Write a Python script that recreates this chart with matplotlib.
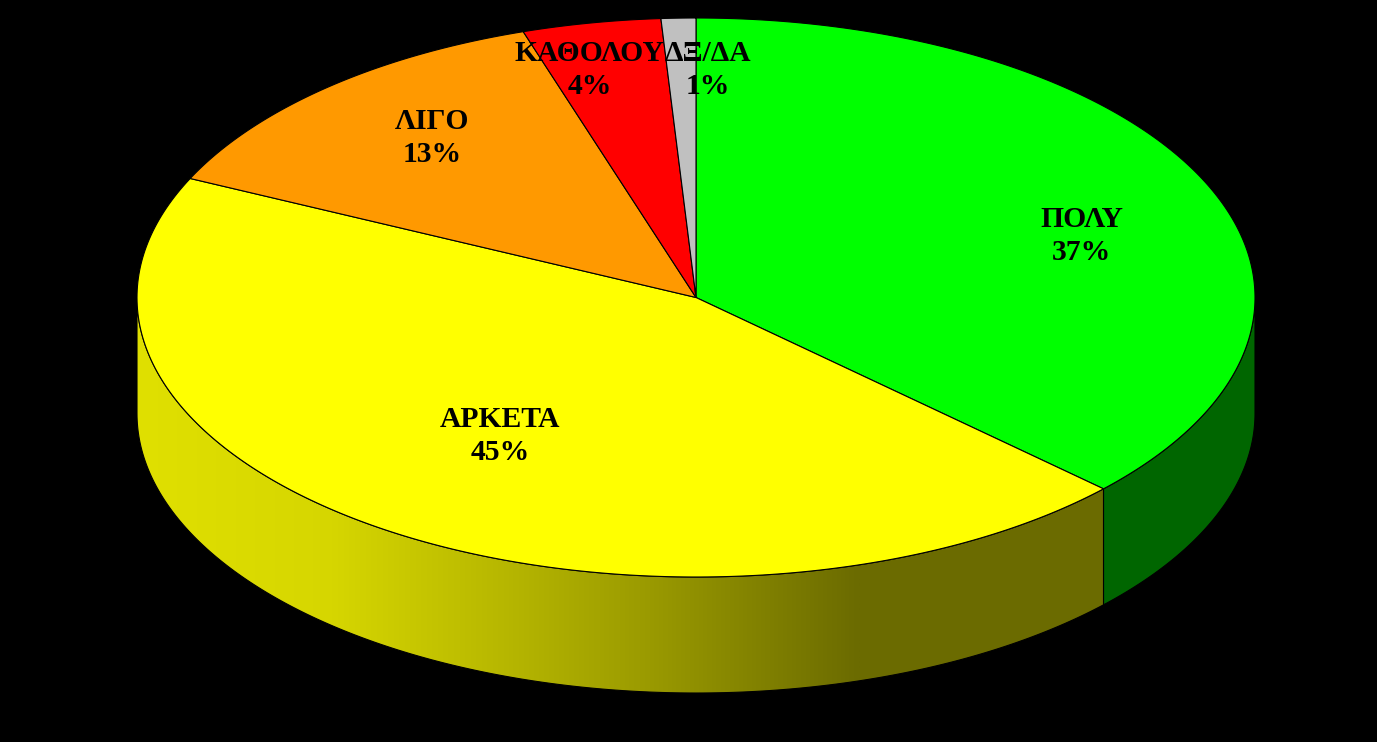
"""3D-look pie chart of survey answers on a black background."""

import numpy as np
import matplotlib

matplotlib.use("Agg")
import matplotlib.pyplot as plt
from matplotlib.colors import LinearSegmentedColormap
from matplotlib.patches import Polygon

categories = ["ΠΟΛΥ", "ΑΡΚΕΤΑ", "ΛΙΓΟ", "ΚΑΘΟΛΟΥ", "ΔΞ/ΔΑ"]
values = [37, 45, 13, 4, 1]
colors = ["#00ff00", "#ffff00", "#ff9900", "#ff0000", "#c0c0c0"]

# label centres as fractions of the radius (x right, y down)
label_dx = [0.69, -0.35, -0.472, -0.19, 0.022]
label_dy = [-0.22, 0.495, -0.57, -0.815, -0.815]

WIDTH, HEIGHT = 1377, 742
CX, CY = 696, 297.5
RX, RY = 559, 279.5
DEPTH = 116
SIDE_GREEN = "#006600"
GRADIENT_END_X = 860
# (position along the ramp, colour) for the shaded yellow wall
SIDE_STOPS = [(0.0, "#e0e000"), (0.27, "#d6d600"), (0.50, "#b8b800"),
              (0.71, "#9a9a00"), (1.0, "#6b6b00")]


def rim(theta_deg, drop=0.0):
    """Points on the ellipse, theta clockwise from 12 o'clock."""
    t = np.radians(theta_deg)
    return np.column_stack([CX + RX * np.sin(t), CY - RY * np.cos(t) + drop])


def side_points(a, b):
    arc = np.linspace(a, b, 200)
    return np.vstack([rim(arc), rim(arc[::-1], DEPTH)])


fig = plt.figure(figsize=(WIDTH / 100, HEIGHT / 100), dpi=100, facecolor="black")
ax = fig.add_axes([0, 0, 1, 1])
ax.set_xlim(0, WIDTH)
ax.set_ylim(HEIGHT, 0)
ax.axis("off")

edges = np.concatenate([[0], np.cumsum(values)]) / sum(values) * 360

# visible wall: green flat, yellow shaded left to right
green_side = Polygon(side_points(90, edges[1]), closed=True, facecolor=SIDE_GREEN,
                     edgecolor="black", linewidth=0.8, zorder=1)
ax.add_patch(green_side)

yellow_side = Polygon(side_points(edges[1], 270), closed=True, facecolor="none",
                      edgecolor="black", linewidth=0.8, zorder=3)
ax.add_patch(yellow_side)
cmap = LinearSegmentedColormap.from_list("side", SIDE_STOPS)
ramp = np.linspace(0, 1, 256).reshape(1, -1)
x_left = CX - RX
im = ax.imshow(ramp, cmap=cmap, aspect="auto", zorder=2,
               extent=[x_left, GRADIENT_END_X, CY + RY + DEPTH + 2, CY - 2])
im.set_clip_path(yellow_side)
# past the end of the ramp the wall stays flat
flat = Polygon(side_points(edges[1], 180 - np.degrees(np.arcsin((GRADIENT_END_X - CX) / RX))),
               closed=True, facecolor=SIDE_STOPS[-1][1], edgecolor="none", zorder=1.5)
ax.add_patch(flat)
ax.set_xlim(0, WIDTH)
ax.set_ylim(HEIGHT, 0)

# top face
for start, end, color in zip(edges[:-1], edges[1:], colors):
    arc = rim(np.linspace(start, end, 200))
    pts = np.vstack([[CX, CY], arc])
    ax.add_patch(Polygon(pts, closed=True, facecolor=color, edgecolor="black",
                         linewidth=0.8, joinstyle="round", zorder=4))

for name, val, dx, dy in zip(categories, values, label_dx, label_dy):
    ax.text(CX + dx * RX, CY + dy * RY, f"{name}\n{val}%", ha="center", va="center",
            family="Liberation Serif", fontweight="bold", fontsize=21.3,
            linespacing=1.3, color="black", zorder=5)

fig.savefig("out.png", dpi=100, facecolor="black")
plt.close(fig)
